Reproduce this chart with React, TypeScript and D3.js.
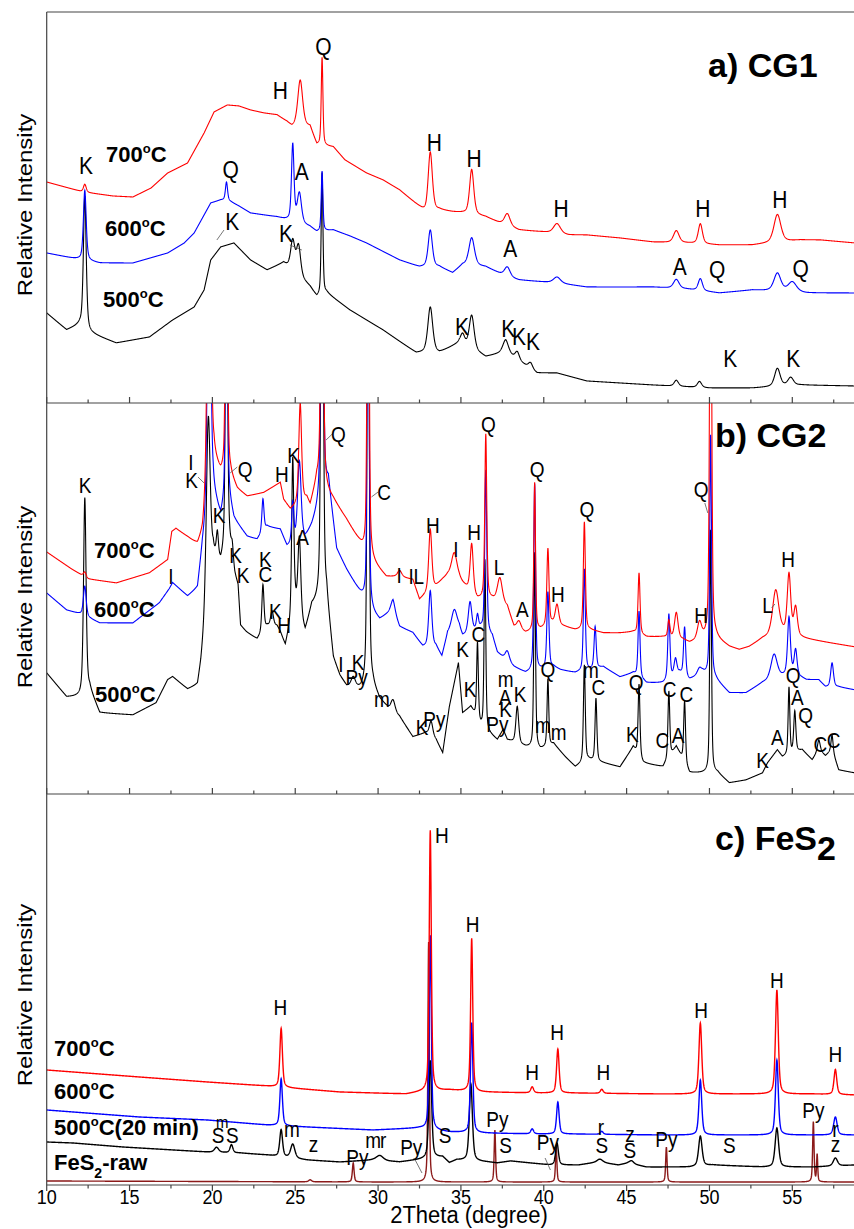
import React, { useMemo } from 'react';
import * as d3 from 'd3';

type Pt = [number, number];      // [2theta, baseline intensity]
type Peak = [number, number, number]; // [2theta, height, fwhm]
type Label = [string, number, number]; // [text, 2theta, intensity]
type Leader = [number, number, number, number];

// ---- a) CG1 ----
const cg1_700_base: Pt[] = [[10,221],[12.2,211],[14,207],[15.2,206],[16.3,215],[17.3,230],[18.5,240],[19.5,270],[20.1,291],[20.9,298],[21.6,297],[22.3,293],[23.1,290],[23.9,288],[24.5,281],[24.8,276],[25.9,276],[26.3,258],[27.3,256],[28.0,243],[29.3,230],[30.3,223],[31.3,213],[32.5,196],[32.9,190],[33.7,193],[34.5,191],[35.1,190],[36.5,186],[37.2,181],[38.5,173],[40,171],[41.5,168],[42.6,168],[44.6,165],[46.6,161],[48.6,160],[50.6,158],[52.6,158],[55.5,163],[56.7,163],[58.8,160]];
const cg1_700_peaks: Peak[] = [[12.3,8,0.2],[25.3,47,0.35],[26.62,88,0.12],[33.15,60,0.3],[35.65,45,0.3],[37.8,12,0.4],[40.8,10,0.5],[48.0,12,0.4],[49.45,20,0.3],[54.1,28,0.5]];
const cg1_600_base: Pt[] = [[10,150],[11.5,145],[13.2,140],[15.2,140],[17.3,150],[18.3,160],[18.9,170],[19.5,188],[19.9,200],[20.5,203],[20.9,203],[21.6,197],[22.3,190],[23.1,188],[23.9,186],[24.5,183],[25.9,176],[26.3,171],[27.3,173],[28.3,167],[29.3,160],[31.3,143],[32.5,136],[33.7,136],[34.5,130],[35.1,138],[36.5,136],[37.8,126],[38.5,123],[40.8,120],[42.6,116],[46.6,116],[48.6,114],[50.6,110],[52.6,113],[55.9,110],[58.8,110]];
const cg1_600_peaks: Peak[] = [[12.3,70,0.2],[20.85,18,0.15],[24.85,77,0.18],[25.25,30,0.3],[26.62,60,0.12],[33.15,37,0.3],[35.65,28,0.4],[37.8,10,0.4],[40.8,6,0.5],[48.0,9,0.4],[49.45,12,0.3],[54.1,18,0.5],[55.0,10,0.6]];
const cg1_500_base: Pt[] = [[10,90],[11.2,73],[12.0,78],[12.6,70],[14.2,60],[16.2,66],[17.6,83],[18.9,96],[19.5,113],[19.9,143],[20.5,156],[21.3,160],[22.3,143],[23.3,133],[24.3,140],[25.9,116],[26.3,106],[26.9,110],[28.3,93],[30.3,73],[32.3,50],[33.7,50],[34.9,60],[36.5,46],[37.7,51],[38.4,43],[39.6,30],[40.8,30],[42.6,22],[46.6,18],[50,15],[52.6,15],[55.5,18],[58.8,17]];
const cg1_500_peaks: Peak[] = [[12.3,133,0.2],[24.85,30,0.3],[25.2,30,0.3],[26.62,122,0.12],[33.15,46,0.35],[35.1,10,0.3],[35.65,34,0.35],[37.7,12,0.4],[38.4,8,0.3],[39.2,6,0.3],[48.0,6,0.3],[49.4,6,0.3],[54.1,18,0.4],[54.9,8,0.4]];
const cg1_labels: Label[] = [['K',12.37,229],['Q',26.7,348],['H',24.1,304],['Q',21.1,225],['A',25.4,223],['K',21.2,173],['K',24.45,161],['H',33.4,252],['H',35.8,236],['H',41.05,186],['H',49.6,186],['H',54.25,195],['A',37.97,146],['A',48.2,128],['Q',50.46,125],['Q',55.5,126],['K',35.07,68],['K',37.85,66],['K',38.5,58],['K',39.35,53],['K',51.25,36],['K',55.05,36]];
const cg1_leaders: Leader[] = [[20.27,163,20.7,173],[24.68,158,25.4,153]];

// ---- b) CG2 ----
const cg2_700_base: Pt[] = [[10,242],[11.5,225],[12.5,215],[14.2,211],[16.2,221],[17.3,234],[17.55,262],[17.8,265],[18.5,256],[19.1,247],[19.4,255],[20.1,330],[20.5,317],[21.1,317],[21.5,304],[22.1,297],[23.1,301],[24.1,311],[24.3,294],[24.7,284],[25.7,294],[25.9,287],[26.3,311],[27.3,294],[28.1,274],[28.9,251],[29.2,241],[29.7,231],[30.5,217],[31.3,217],[32.1,214],[32.5,194],[33.5,207],[33.9,214],[34.2,218],[34.9,214],[35.1,210],[36.0,194],[36.9,194],[37.8,187],[38.2,167],[38.9,161],[39.8,164],[40.5,170],[41.3,167],[41.9,164],[42.8,164],[43.6,161],[44.6,161],[45.4,162],[46.2,157],[47.2,157],[48.4,154],[48.8,151],[49.7,155],[50.4,155],[51.2,147],[51.8,144],[52.4,147],[53.2,155],[54.4,160],[55.85,155],[57.3,151],[58.8,147]];
const cg2_700_peaks: Peak[] = [[12.3,5,0.2],[19.8,350,0.25],[20.85,400,0.13],[25.3,100,0.2],[26.62,500,0.15],[29.4,500,0.13],[31.3,6,0.3],[33.15,62,0.22],[34.6,25,0.4],[35.65,49,0.22],[36.5,165,0.14],[37.35,25,0.35],[38.5,8,0.3],[39.45,148,0.12],[40.25,77,0.15],[40.8,20,0.25],[42.45,108,0.14],[45.75,61,0.14],[47.55,17,0.15],[48.0,26,0.25],[49.4,17,0.3],[50.07,500,0.14],[54.0,45,0.45],[54.8,60,0.25],[55.2,28,0.25]];
const cg2_600_base: Pt[] = [[10,201],[11.2,184],[12.0,180],[13.2,171],[15.2,171],[16.8,191],[17.4,205],[17.6,211],[18.5,197],[19.1,204],[19.4,244],[20.05,297],[20.5,274],[20.95,297],[21.3,274],[22.1,257],[22.7,254],[23.3,267],[24.1,264],[24.5,247],[25.6,254],[26.0,267],[27.0,311],[27.5,244],[28.1,224],[28.9,201],[29.6,181],[30.1,174],[30.9,184],[31.3,167],[32.1,161],[32.7,147],[33.5,147],[33.85,137],[34.2,160],[34.9,165],[35.1,157],[36.2,165],[36.9,157],[37.2,141],[38.2,127],[38.9,121],[39.8,124],[40.6,127],[41.0,124],[41.9,121],[42.8,124],[43.6,127],[44.6,117],[45.4,121],[46.2,111],[47.2,111],[48.2,121],[48.8,114],[49.6,121],[50.4,114],[51.2,101],[52.2,101],[53.2,111],[54.4,117],[55.0,120],[55.85,114],[56.6,114],[57.0,107],[57.8,107],[58.8,104]];
const cg2_600_peaks: Peak[] = [[12.3,30,0.2],[19.8,350,0.22],[20.85,400,0.12],[23.05,33,0.15],[24.85,40,0.15],[25.25,80,0.25],[26.62,500,0.15],[29.4,500,0.12],[30.9,10,0.3],[33.15,56,0.22],[34.6,21,0.4],[35.55,31,0.25],[36.0,14,0.15],[36.5,162,0.14],[37.8,10,0.3],[39.45,187,0.13],[40.25,76,0.15],[42.45,102,0.14],[43.1,42,0.15],[45.75,66,0.14],[47.55,65,0.15],[47.95,16,0.2],[48.5,49,0.15],[49.4,6,0.3],[50.07,242,0.13],[53.9,25,0.45],[54.8,57,0.2],[55.2,25,0.2],[57.4,24,0.2]];
const cg2_500_base: Pt[] = [[10,121],[11.2,97],[12.0,97],[12.6,104],[13.2,81],[15.2,79],[16.6,91],[17.3,114],[17.6,117],[18.5,104],[19.1,107],[19.3,127],[20.05,234],[20.5,227],[21.0,247],[21.35,217],[21.55,207],[21.7,167],[22.06,161],[22.7,154],[23.3,167],[23.9,167],[24.1,161],[24.4,147],[25.0,187],[25.6,161],[26.0,187],[26.9,194],[27.3,134],[27.7,117],[28.1,107],[28.9,104],[29.7,107],[30.1,94],[30.7,84],[31.3,77],[32.1,57],[32.9,61],[33.5,54],[33.9,41],[34.3,87],[34.85,131],[35.1,81],[35.6,87],[36.2,67],[37.2,54],[37.55,64],[37.8,54],[38.9,47],[39.8,44],[40.6,50],[41.3,37],[41.9,27],[42.7,34],[43.6,31],[44.6,27],[45.4,47],[46.0,31],[47.2,27],[48.0,47],[48.8,21],[49.6,21],[50.5,21],[51.2,11],[52.2,14],[53.2,21],[53.5,31],[54.1,44],[54.4,37],[55.6,44],[56.2,34],[56.6,44],[57.0,38],[57.4,44],[57.8,24],[58.8,21]];
const cg2_500_peaks: Peak[] = [[12.3,196,0.18],[19.75,185,0.28],[20.3,25,0.15],[20.85,450,0.13],[21.2,15,0.15],[23.05,47,0.15],[23.6,15,0.2],[24.85,157,0.15],[25.25,78,0.2],[26.62,600,0.15],[28.5,10,0.3],[29.4,600,0.13],[30.9,12,0.3],[33.2,15,0.25],[36.0,77,0.12],[36.45,170,0.12],[38.4,37,0.2],[39.45,196,0.12],[40.25,67,0.12],[42.45,97,0.13],[43.15,63,0.13],[45.75,72,0.13],[47.55,67,0.13],[48.5,62,0.13],[50.07,243,0.12],[54.8,67,0.12],[55.15,41,0.15],[56.6,10,0.2],[57.4,15,0.15]];
const cg2_labels: Label[] = [['K',12.32,301],['I',18.7,324],['K',18.75,306],['Q',21.97,317],['H',24.2,312],['K',24.9,331],['Q',27.6,352],['C',30.37,294],['K',20.4,271],['A',25.45,249],['I',17.5,210],['K',21.4,231],['K',21.85,211],['K',23.2,227],['C',23.2,212],['K',23.8,175],['H',24.33,161],['I',27.75,122],['K',28.8,124],['Py',28.7,109],['I',31.27,211],['I',32.0,210],['L',32.45,210],['m',30.23,87],['K',32.65,59],['Py',33.4,67],['H',33.3,261],['I',34.7,237],['H',35.8,254],['L',37.3,219],['A',38.7,177],['H',40.85,192],['C',36.05,152],['K',35.1,137],['K',35.55,97],['m',37.7,107],['A',37.67,89],['K',37.7,77],['Py',37.2,62],['K',38.57,92],['Q',40.25,117],['m',39.95,61],['m',40.9,54],['Q',42.6,277],['m',42.85,116],['C',43.3,99],['Q',39.6,317],['Q',36.65,362],['Q',45.58,104],['K',45.35,52],['C',47.6,97],['C',48.6,92],['H',49.5,171],['C',47.15,46],['A',48.1,51],['Q',49.5,297],['L',53.5,181],['H',54.75,227],['Q',55.05,111],['A',55.3,89],['Q',55.8,71],['A',54.1,49],['K',53.2,26],['C',56.7,42],['C',57.5,46]];
const cg2_leaders: Leader[] = [[19.13,317,19.5,311],[21.07,321,21.5,327],[26.86,354,27.3,361],[29.6,297,30.0,302],[49.72,291,49.9,281],[53.75,186,53.95,190]];

// ---- c) FeS2 ----
const fes_700_base: Pt[] = [[10,115],[11.6,113],[15.6,108],[19.7,103],[23.3,99],[24.7,97],[27.7,93],[31.7,91],[32.5,93],[34.3,95],[36.1,93],[39.8,92],[41.6,92],[47.2,91],[51.2,91],[56.3,91],[58.8,90]];
const fes_700_peaks: Peak[] = [[24.15,59,0.18],[33.15,261,0.15],[35.65,153,0.15],[39.3,6,0.2],[40.85,44,0.18],[43.5,4,0.2],[49.45,71,0.2],[54.07,104,0.2],[57.6,25,0.2]];
const fes_600_base: Pt[] = [[10,75],[11.6,73],[15.6,68],[19.7,65],[23.3,60],[25.7,58],[29.7,55],[32.5,57],[34.3,53],[36.1,52],[39.8,51],[41.6,51],[47.2,50],[51.2,50],[56.3,50],[58.8,50]];
const fes_600_peaks: Peak[] = [[24.15,47,0.18],[33.15,194,0.15],[35.65,110,0.17],[39.3,5,0.2],[40.85,32,0.18],[43.5,3,0.2],[49.45,55,0.2],[54.07,75,0.2],[57.6,18,0.25]];
const fes_500_base: Pt[] = [[10,43],[11.6,42],[14.6,38],[19.7,33],[21.7,32],[23.3,30],[25.7,25],[26.7,24],[27.7,23],[29.7,25],[31.3,23],[32.3,25],[33.9,28],[34.3,22],[34.75,25],[36.6,23],[37.2,22],[38.0,24],[39.2,22],[40.4,20],[42.1,20],[43.3,23],[44.5,20],[45.1,22],[46.2,18],[48.8,18],[50.2,20],[53.2,18],[56.3,18],[58.8,20]];
const fes_500_peaks: Peak[] = [[20.25,5,0.3],[21.15,8,0.2],[24.15,27,0.2],[24.85,14,0.3],[30.1,5,0.5],[33.15,98,0.2],[35.6,77,0.22],[40.8,22,0.2],[43.4,3,0.4],[45.3,3,0.3],[49.45,30,0.25],[54.07,39,0.25],[57.6,8,0.3]];
const fes_raw_base: Pt[] = [[10,4],[30,3],[58.8,3]];
const fes_raw_peaks: Peak[] = [[25.9,2,0.2],[28.5,19,0.12],[33.05,240,0.1],[37.05,52,0.1],[40.75,35,0.1],[47.4,35,0.1],[56.27,60,0.1],[56.5,27,0.08]];
const fes_labels: Label[] = [['H',24.1,170],['S',20.35,42],['S',21.2,42],['m',24.8,48],['z',26.1,33],['Py',28.75,20],['m',29.7,37],['r',30.3,37],['Py',32.0,30],['H',33.85,342],['H',35.7,253],['H',39.3,105],['H',40.8,145],['H',43.6,105],['H',49.5,167],['H',54.07,197],['H',57.6,123],['S',34.05,42],['Py',37.2,58],['S',37.7,32],['Py',40.25,35],['r',43.45,50],['S',43.5,32],['z',45.2,43],['S',45.2,27],['Py',47.4,38],['S',51.2,32],['Py',56.27,67],['r',57.6,48],['z',57.6,33]];
const fes_small: Label[] = [['m',20.6,57]];
const fes_leaders: Leader[] = [[32.24,25,32.65,12],[40.08,27,40.4,15]];

const majorTicks = d3.range(10, 56, 5);
const minorTicks = d3.range(12.5, 58, 5);

const W = 854, H = 1229;
const x0 = 46.7;
const tops = [12, 403, 794];
const ph = 391;
const FONT = '"Liberation Sans", Arial, Helvetica, sans-serif';

function profile(base: Pt[], peaks: Peak[]): Pt[] {
  const xs = base.map(d => d[0]);
  const bis = d3.bisector((d: number) => d).right;
  const out: Pt[] = [];
  for (let i = 0; i <= 4880; i++) {
    const t = 10 + i * 0.01;
    let j = Math.min(Math.max(bis(xs, t), 1), xs.length - 1);
    const [ax, ay] = base[j - 1], [bx, by] = base[j];
    let v = ay + (by - ay) * (t - ax) / (bx - ax);
    for (const [p, h, w] of peaks) {
      const u = (t - p) / w;
      v += h * (0.5 / (1 + 4 * u * u) + 0.5 * Math.exp(-2.7726 * u * u));
    }
    out.push([t, v]);
  }
  return out;
}

const Txt = ({ x, y, size = 20, sy = 1.15, anchor = 'middle', weight = 'normal', children }: any) => (
  <text transform={`translate(${x},${y}) scale(1,${sy})`} fontSize={size} textAnchor={anchor} fontWeight={weight} fontFamily={FONT} fill="#000">{children}</text>
);

const Temp = ({ x, y, t }: { x: number; y: number; t: string }) => (
  <text x={x} y={y} fontSize={22} fontWeight="bold" fontFamily={FONT}>
    {t}<tspan dy={-9} fontSize={13}>o</tspan><tspan dy={9}>C</tspan>
  </text>
);

export default function App() {
  const x = d3.scaleLinear().domain([10, 55]).range([x0, 792.3]);

  const panels = useMemo(() => [
    {
      traces: [
        { c: '#000000', d: profile(cg1_500_base, cg1_500_peaks) },
        { c: '#0000ff', d: profile(cg1_600_base, cg1_600_peaks) },
        { c: '#ff0000', d: profile(cg1_700_base, cg1_700_peaks) },
      ],
      labels: cg1_labels, leaders: cg1_leaders, lsize: 21, sw: 1.1,
    },
    {
      traces: [
        { c: '#000000', d: profile(cg2_500_base, cg2_500_peaks) },
        { c: '#0000ff', d: profile(cg2_600_base, cg2_600_peaks) },
        { c: '#ff0000', d: profile(cg2_700_base, cg2_700_peaks) },
      ],
      labels: cg2_labels, leaders: cg2_leaders, lsize: 19, sw: 1.1,
    },
    {
      traces: [
        { c: '#8b1a1a', d: profile(fes_raw_base, fes_raw_peaks) },
        { c: '#000000', d: profile(fes_500_base, fes_500_peaks) },
        { c: '#0000ff', d: profile(fes_600_base, fes_600_peaks) },
        { c: '#ff0000', d: profile(fes_700_base, fes_700_peaks) },
      ],
      labels: fes_labels, leaders: fes_leaders, lsize: 19, sw: 1.4,
    },
  ], []);

  const ys = tops.map(t => d3.scaleLinear().domain([0, ph]).range([t + ph, t]));

  return (
    <svg width={W} height={H} style={{ position: 'absolute', left: 0, top: 0, background: '#fff' }}>
      <defs>
        {tops.map((t, i) => (
          <clipPath id={`clip${i}`} key={i}>
            <rect x={x0} y={t} width={W - x0} height={ph} />
          </clipPath>
        ))}
      </defs>
      {panels.map((p, i) => {
        const y = ys[i];
        const line = d3.line<Pt>().x(d => x(d[0])).y(d => y(d[1]));
        return (
          <g key={i}>
            <g clipPath={`url(#clip${i})`}>
              {p.traces.map((tr, k) => (
                <path key={k} d={line(tr.d) || ''} fill="none" stroke={tr.c} strokeWidth={p.sw} />
              ))}
            </g>
            {p.leaders.map((l, k) => (
              <line key={k} x1={x(l[0])} y1={y(l[1])} x2={x(l[2])} y2={y(l[3])} stroke="#555" strokeWidth={0.8} />
            ))}
            {p.labels.map((l, k) => (
              <Txt key={k} x={x(l[1])} y={y(l[2])} size={p.lsize}>{l[0]}</Txt>
            ))}
          </g>
        );
      })}
      {fes_small.map((l, k) => (
        <Txt key={k} x={x(l[1])} y={ys[2](l[2])} size={15}>{l[0]}</Txt>
      ))}

      {/* frame */}
      <g stroke="#444" strokeWidth={1.2}>
        <line x1={x0} y1={tops[0]} x2={x0} y2={tops[2] + ph} />
        <line x1={x0} y1={tops[0]} x2={W} y2={tops[0]} />
        <line x1={x0} y1={tops[1]} x2={W} y2={tops[1]} />
        <line x1={x0} y1={tops[2]} x2={W} y2={tops[2]} />
        <line x1={x0} y1={tops[2] + ph} x2={W} y2={tops[2] + ph} />
        {[tops[1], tops[2]].map((yy, i) => (
          <g key={i}>
            {majorTicks.map(t => <line key={t} x1={x(t)} x2={x(t)} y1={yy} y2={yy - 6} />)}
            {minorTicks.map(t => <line key={'m' + t} x1={x(t)} x2={x(t)} y1={yy} y2={yy - 3.5} />)}
          </g>
        ))}
        {majorTicks.map(t => <line key={t} x1={x(t)} x2={x(t)} y1={tops[2] + ph} y2={tops[2] + ph + 6} />)}
        {minorTicks.map(t => <line key={'m' + t} x1={x(t)} x2={x(t)} y1={tops[2] + ph} y2={tops[2] + ph + 3.5} />)}
      </g>
      {majorTicks.map(t => (
        <Txt key={t} x={x(t)} y={1204} size={18} sy={1.12}>{t}</Txt>
      ))}
      <Txt x={469} y={1223} size={22} sy={1.05}>2Theta (degree)</Txt>

      {[205, 597, 995].map((cy, i) => (
        <text key={i} transform={`translate(32,${cy}) rotate(-90) scale(1.2,1)`} fontSize={20} textAnchor="middle" fontFamily={FONT}>Relative Intensity</text>
      ))}

      {/* titles */}
      <text x={708} y={77} fontSize={34} fontWeight="bold" fontFamily={FONT}>a) CG1</text>
      <text x={715} y={447} fontSize={34} fontWeight="bold" fontFamily={FONT}>b) CG2</text>
      <text x={715} y={850} fontSize={34} fontWeight="bold" fontFamily={FONT}>c) FeS<tspan dy={10}>2</tspan></text>

      {/* temperatures */}
      <Temp x={106} y={162} t="700" />
      <Temp x={105} y={236} t="600" />
      <Temp x={103} y={307} t="500" />
      <Temp x={94} y={558} t="700" />
      <Temp x={94} y={617} t="600" />
      <Temp x={95} y={702} t="500" />
      <Temp x={54} y={1056} t="700" />
      <Temp x={54} y={1099} t="600" />
      <text x={54} y={1135} fontSize={22} fontWeight="bold" fontFamily={FONT}>
        500<tspan dy={-9} fontSize={13}>o</tspan><tspan dy={9}>C(20 min)</tspan>
      </text>
      <text x={54} y={1170} fontSize={22} fontWeight="bold" fontFamily={FONT}>
        FeS<tspan dy={8} fontSize={14}>2</tspan><tspan dy={-8}>-raw</tspan>
      </text>
    </svg>
  );
}
